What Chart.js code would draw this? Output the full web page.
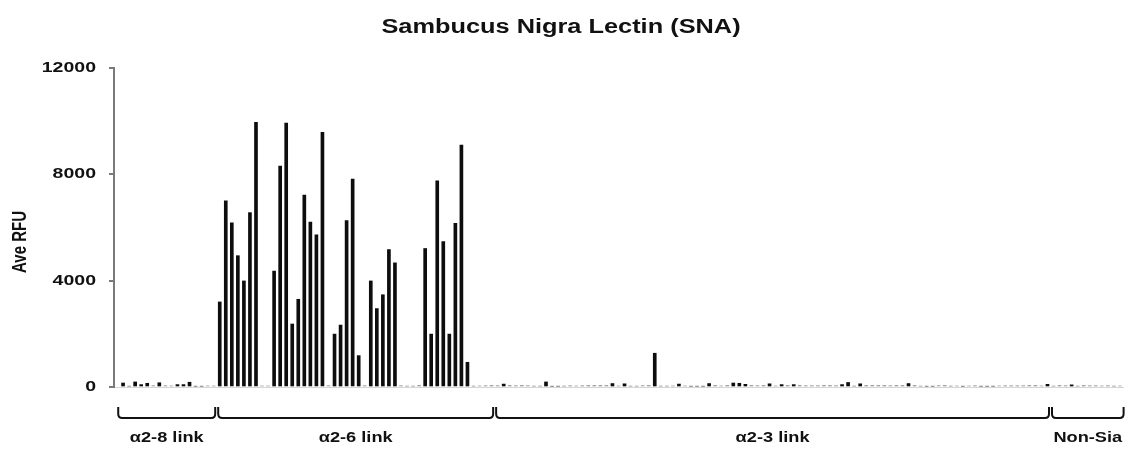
<!DOCTYPE html>
<html>
<head>
<meta charset="utf-8">
<script src="https://cdn.jsdelivr.net/npm/chart.js@4.4.1/dist/chart.umd.min.js"></script>
<style>
  html, body { margin: 0; padding: 0; background: #fff; }
  canvas { display: block; }
</style>
</head>
<body>
<canvas id="chart" width="1129" height="454"></canvas>
<script>
// text in the source picture is stretched sideways, so we draw it scaled
const SX = 1.3;
const FONT = '"Liberation Sans", Arial, sans-serif';

const chartTitle = 'Sambucus Nigra Lectin (SNA)';
const yTitle = 'Ave RFU';
const yTicks = [0, 4000, 8000, 12000];
const yTickLabels = ['0', '4000', '8000', '12000'];
const groupNames = ['α2-8 link', 'α2-6 link', 'α2-3 link', 'Non-Sia'];

// Ave RFU per glycan
const a28 = [150, 20, 190, 90, 140, 50, 160, 50, 40, 90, 90, 180, 10, 10, 40, 40];
const a26 = [3200, 7000, 6180, 4940, 3990, 6560, 9960, 40, 40, 4360, 8310, 9930, 2370, 3300,
             7220, 6200, 5720, 9580, 50, 1990, 2330, 6260, 7820, 1180, 50, 3990, 2950, 3470,
             5170, 4670, 50, 30, 30, 60, 5210, 1990, 7760, 5470, 1990, 6160, 9100, 930,
             30, 40, 50, 60];
const a23 = [50, 110, 60, 50, 60, 50, 30, 30, 190, 10, 10, 30, 50, 40, 50, 60, 60, 60, 60,
             130, 40, 120, 30, 30, 50, 60, 1270, 30, 30, 40, 110, 40, 10, 10, 10, 130, 60,
             40, 60, 150, 140, 100, 60, 50, 60, 120, 40, 90, 60, 90, 60, 50, 50, 50, 60, 60,
             50, 90, 170, 30, 120, 60, 60, 60, 60, 50, 60, 60, 130, 60, 30, 10, 10, 50, 60,
             30, 40, 10, 40, 50, 10, 10, 10, 40, 50, 50, 50, 50, 60, 60, 40, 100];
const nonSia = [30, 60, 50, 80, 30, 60, 50, 50, 40, 50, 30, 40];

const groups = [a28, a26, a23, nonSia];

// one empty slot in front keeps the first bar clear of the y axis
const labels = [''];
const values = [null];
const groupRanges = [];
groups.forEach(g => {
  const start = values.length;
  g.forEach(v => { labels.push(String(values.length)); values.push(v); });
  groupRanges.push([start, values.length - 1]);
});

function drawText(ctx, str, x, y, size, align, rotate) {
  ctx.save();
  ctx.translate(x, y);
  ctx.scale(SX, 1);
  if (rotate) ctx.rotate(-Math.PI / 2);
  ctx.font = `bold ${size}px ${FONT}`;
  ctx.textAlign = align;
  ctx.textBaseline = 'middle';
  ctx.fillStyle = '#111';
  ctx.fillText(str, 0, 0);
  ctx.restore();
}

const decorations = {
  id: 'decorations',
  afterDraw(chart) {
    const { ctx, scales: { x, y }, chartArea } = chart;

    drawText(ctx, chartTitle, 561, 28, 19.5, 'center');
    drawText(ctx, yTitle, 21, 242, 15, 'center', true);
    yTicks.forEach((t, i) => {
      drawText(ctx, yTickLabels[i], 96, y.getPixelForValue(t), 15, 'right');
    });

    // group brackets under the axis
    const px = i => x.getPixelForValue(i);
    const step = px(2) - px(1);
    const yTop = chartArea.bottom + 20, yBot = chartArea.bottom + 31, r = 4;
    ctx.save();
    ctx.strokeStyle = '#111';
    ctx.lineWidth = 2;
    groupRanges.forEach(([s, e], g) => {
      const x0 = g === 0 ? px(s) - step * 0.8 : (px(s - 1) + px(s)) / 2 + 1.5;
      const x1 = g === groupRanges.length - 1 ? px(e) + step * 0.6 : (px(e) + px(e + 1)) / 2 - 1.5;
      ctx.beginPath();
      ctx.moveTo(x0, yTop);
      ctx.lineTo(x0, yBot - r);
      ctx.quadraticCurveTo(x0, yBot, x0 + r, yBot);
      ctx.lineTo(x1 - r, yBot);
      ctx.quadraticCurveTo(x1, yBot, x1, yBot - r);
      ctx.lineTo(x1, yTop);
      ctx.stroke();
      drawText(ctx, groupNames[g], (x0 + x1) / 2, chartArea.bottom + 51, 14, 'center');
    });
    ctx.restore();
  }
};

new Chart(document.getElementById('chart'), {
  type: 'bar',
  data: {
    labels: labels,
    datasets: [{
      data: values,
      barThickness: 3,
      backgroundColor: c => (c.raw != null && c.raw < 80 ? '#9c9c9c' : '#0d0d0d')
    }]
  },
  options: {
    responsive: false,
    animation: false,
    layout: { padding: { top: 68, right: 6, left: 0, bottom: 0 } },
    plugins: {
      legend: { display: false },
      tooltip: { enabled: false },
      title: { display: false }
    },
    scales: {
      x: {
        ticks: { display: false },
        grid: { display: false },
        border: { display: true, color: '#d6d6d6', width: 1 },
        afterFit: s => { s.height = 67; }
      },
      y: {
        min: 0,
        max: 12000,
        ticks: { display: false, stepSize: 4000 },
        grid: { drawOnChartArea: false, drawTicks: true, tickLength: 5, color: '#7a7a7a', lineWidth: 2 },
        border: { display: true, color: '#7a7a7a', width: 2 },
        afterFit: s => { s.width = 114; }
      }
    }
  },
  plugins: [decorations]
});
</script>
</body>
</html>
